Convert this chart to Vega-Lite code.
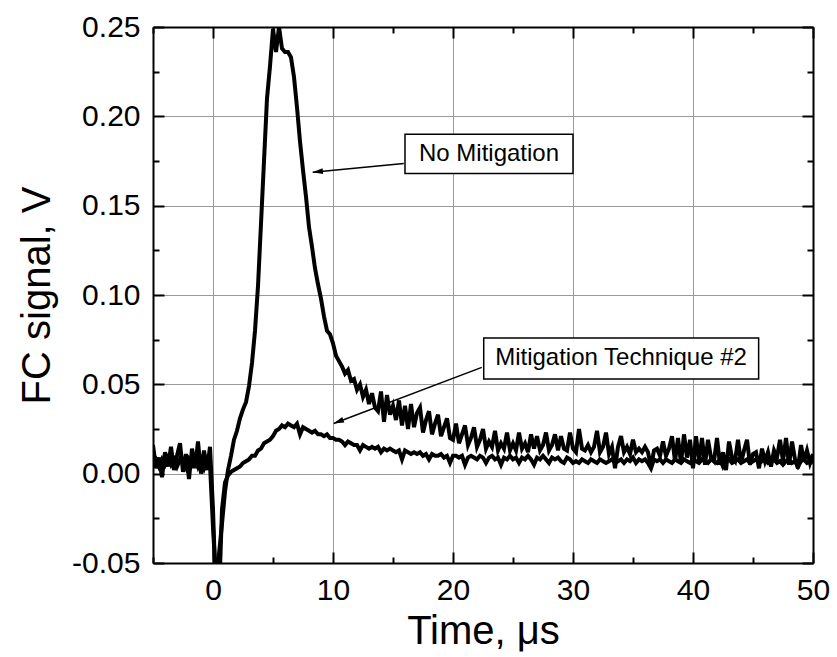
{
  "$schema": "https://vega.github.io/schema/vega-lite/v6.json",
  "width": 660,
  "height": 536,
  "autosize": {"type": "none"},
  "padding": {"left": 153, "top": 27, "right": 24, "bottom": 94},
  "background": "white",
  "config": {"view": {"stroke": null}, "font": "Liberation Sans"},
  "datasets": {
    "curves": [
      {"s":"A","t":-5,"v":0.016},{"s":"A","t":-4.75,"v":0.003},{"s":"A","t":-4.5,"v":0.009},{"s":"A","t":-4.25,"v":-0.002},{"s":"A","t":-4,"v":0.012},{"s":"A","t":-3.75,"v":0.004},{"s":"A","t":-3.5,"v":0.015},{"s":"A","t":-3.25,"v":0.002},{"s":"A","t":-3,"v":0.010},{"s":"A","t":-2.75,"v":0.017},{"s":"A","t":-2.5,"v":0.001},{"s":"A","t":-2.25,"v":0.011},{"s":"A","t":-2,"v":-0.003},{"s":"A","t":-1.75,"v":0.014},{"s":"A","t":-1.5,"v":0.003},{"s":"A","t":-1.25,"v":0.018},{"s":"A","t":-1,"v":0.000},{"s":"A","t":-0.75,"v":0.013},{"s":"A","t":-0.5,"v":0.002},{"s":"A","t":-0.25,"v":0.015},
      {"s":"A","t":0,"v":-0.02},{"s":"A","t":0.25,"v":-0.07},{"s":"A","t":0.5,"v":-0.045},{"s":"A","t":0.75,"v":-0.028},{"s":"A","t":1,"v":-0.01},{"s":"A","t":1.25,"v":0.002},{"s":"A","t":1.5,"v":0.010},{"s":"A","t":1.75,"v":0.019},{"s":"A","t":2,"v":0.024},{"s":"A","t":2.25,"v":0.031},{"s":"A","t":2.5,"v":0.036},{"s":"A","t":2.75,"v":0.040},{"s":"A","t":3,"v":0.049},{"s":"A","t":3.25,"v":0.062},{"s":"A","t":3.5,"v":0.080},{"s":"A","t":3.75,"v":0.105},{"s":"A","t":4,"v":0.140},{"s":"A","t":4.25,"v":0.175},{"s":"A","t":4.5,"v":0.210},{"s":"A","t":4.75,"v":0.228},
      {"s":"A","t":5,"v":0.249},{"s":"A","t":5.25,"v":0.236},{"s":"A","t":5.5,"v":0.250},{"s":"A","t":5.75,"v":0.238},{"s":"A","t":6,"v":0.236},{"s":"A","t":6.25,"v":0.236},{"s":"A","t":6.5,"v":0.233},{"s":"A","t":6.75,"v":0.222},{"s":"A","t":7,"v":0.205},{"s":"A","t":7.25,"v":0.186},{"s":"A","t":7.5,"v":0.170},{"s":"A","t":7.75,"v":0.155},{"s":"A","t":8,"v":0.138},{"s":"A","t":8.25,"v":0.127},{"s":"A","t":8.5,"v":0.115},{"s":"A","t":8.75,"v":0.106},{"s":"A","t":9,"v":0.098},{"s":"A","t":9.25,"v":0.088},{"s":"A","t":9.5,"v":0.080},{"s":"A","t":9.75,"v":0.078},
      {"s":"A","t":10,"v":0.073},{"s":"A","t":10.25,"v":0.066},{"s":"A","t":10.5,"v":0.063},{"s":"A","t":10.75,"v":0.060},{"s":"A","t":11,"v":0.056},{"s":"A","t":11.25,"v":0.058},{"s":"A","t":11.5,"v":0.052},{"s":"A","t":11.75,"v":0.053},{"s":"A","t":12,"v":0.047},{"s":"A","t":12.25,"v":0.050},{"s":"A","t":12.5,"v":0.043},{"s":"A","t":12.75,"v":0.047},{"s":"A","t":13,"v":0.039},{"s":"A","t":13.25,"v":0.045},{"s":"A","t":13.5,"v":0.037},{"s":"A","t":13.75,"v":0.035},{"s":"A","t":14,"v":0.046},{"s":"A","t":14.25,"v":0.029},{"s":"A","t":14.5,"v":0.044},{"s":"A","t":14.75,"v":0.033},
      {"s":"A","t":15,"v":0.038},{"s":"A","t":15.25,"v":0.030},{"s":"A","t":15.5,"v":0.041},{"s":"A","t":15.75,"v":0.027},{"s":"A","t":16,"v":0.038},{"s":"A","t":16.25,"v":0.025},{"s":"A","t":16.5,"v":0.039},{"s":"A","t":16.75,"v":0.026},{"s":"A","t":17,"v":0.034},{"s":"A","t":17.25,"v":0.037},{"s":"A","t":17.5,"v":0.023},{"s":"A","t":17.75,"v":0.030},{"s":"A","t":18,"v":0.035},{"s":"A","t":18.25,"v":0.022},{"s":"A","t":18.5,"v":0.028},{"s":"A","t":18.75,"v":0.033},{"s":"A","t":19,"v":0.021},{"s":"A","t":19.25,"v":0.026},{"s":"A","t":19.5,"v":0.031},{"s":"A","t":19.75,"v":0.020},
      {"s":"A","t":20,"v":0.019},{"s":"A","t":20.25,"v":0.028},{"s":"A","t":20.5,"v":0.017},{"s":"A","t":20.75,"v":0.022},{"s":"A","t":21,"v":0.027},{"s":"A","t":21.25,"v":0.016},{"s":"A","t":21.5,"v":0.020},{"s":"A","t":21.75,"v":0.026},{"s":"A","t":22,"v":0.015},{"s":"A","t":22.25,"v":0.019},{"s":"A","t":22.5,"v":0.025},{"s":"A","t":22.75,"v":0.014},{"s":"A","t":23,"v":0.018},{"s":"A","t":23.25,"v":0.015},{"s":"A","t":23.5,"v":0.024},{"s":"A","t":23.75,"v":0.013},{"s":"A","t":24,"v":0.017},{"s":"A","t":24.25,"v":0.014},{"s":"A","t":24.5,"v":0.023},{"s":"A","t":24.75,"v":0.013},
      {"s":"A","t":25,"v":0.017},{"s":"A","t":25.25,"v":0.013},{"s":"A","t":25.5,"v":0.023},{"s":"A","t":25.75,"v":0.014},{"s":"A","t":26,"v":0.017},{"s":"A","t":26.25,"v":0.012},{"s":"A","t":26.5,"v":0.022},{"s":"A","t":26.75,"v":0.014},{"s":"A","t":27,"v":0.021},{"s":"A","t":27.25,"v":0.013},{"s":"A","t":27.5,"v":0.016},{"s":"A","t":27.75,"v":0.023},{"s":"A","t":28,"v":0.013},{"s":"A","t":28.25,"v":0.016},{"s":"A","t":28.5,"v":0.022},{"s":"A","t":28.75,"v":0.013},{"s":"A","t":29,"v":0.021},{"s":"A","t":29.25,"v":0.014},{"s":"A","t":29.5,"v":0.013},{"s":"A","t":29.75,"v":0.023},
      {"s":"A","t":30,"v":0.014},{"s":"A","t":30.25,"v":0.012},{"s":"A","t":30.5,"v":0.025},{"s":"A","t":30.75,"v":0.014},{"s":"A","t":31,"v":0.013},{"s":"A","t":31.25,"v":0.016},{"s":"A","t":31.5,"v":0.012},{"s":"A","t":31.75,"v":0.015},{"s":"A","t":32,"v":0.024},{"s":"A","t":32.25,"v":0.012},{"s":"A","t":32.5,"v":0.015},{"s":"A","t":32.75,"v":0.023},{"s":"A","t":33,"v":0.011},{"s":"A","t":33.25,"v":0.015},{"s":"A","t":33.5,"v":0.003},{"s":"A","t":33.75,"v":0.015},{"s":"A","t":34,"v":0.021},{"s":"A","t":34.25,"v":0.012},{"s":"A","t":34.5,"v":0.015},{"s":"A","t":34.75,"v":0.011},
      {"s":"A","t":35,"v":0.019},{"s":"A","t":35.25,"v":0.012},{"s":"A","t":35.5,"v":0.014},{"s":"A","t":35.75,"v":0.012},{"s":"A","t":36,"v":0.015},{"s":"A","t":36.25,"v":0.012},{"s":"A","t":36.5,"v":0.004},{"s":"A","t":36.75,"v":0.013},{"s":"A","t":37,"v":0.014},{"s":"A","t":37.25,"v":0.010},{"s":"A","t":37.5,"v":0.018},{"s":"A","t":37.75,"v":0.010},{"s":"A","t":38,"v":0.014},{"s":"A","t":38.25,"v":0.021},{"s":"A","t":38.5,"v":0.007},{"s":"A","t":38.75,"v":0.020},{"s":"A","t":39,"v":0.006},{"s":"A","t":39.25,"v":0.022},{"s":"A","t":39.5,"v":0.009},{"s":"A","t":39.75,"v":0.019},
      {"s":"A","t":40,"v":0.003},{"s":"A","t":40.25,"v":0.021},{"s":"A","t":40.5,"v":0.007},{"s":"A","t":40.75,"v":0.020},{"s":"A","t":41,"v":0.005},{"s":"A","t":41.25,"v":0.019},{"s":"A","t":41.5,"v":0.009},{"s":"A","t":41.75,"v":0.007},{"s":"A","t":42,"v":0.020},{"s":"A","t":42.25,"v":0.005},{"s":"A","t":42.5,"v":0.012},{"s":"A","t":42.75,"v":0.002},{"s":"A","t":43,"v":0.018},{"s":"A","t":43.25,"v":0.009},{"s":"A","t":43.5,"v":0.007},{"s":"A","t":43.75,"v":0.019},{"s":"A","t":44,"v":0.006},{"s":"A","t":44.25,"v":0.013},{"s":"A","t":44.5,"v":0.019},{"s":"A","t":44.75,"v":0.005},
      {"s":"A","t":45,"v":0.011},{"s":"A","t":45.25,"v":0.012},{"s":"A","t":45.5,"v":0.003},{"s":"A","t":45.75,"v":0.014},{"s":"A","t":46,"v":0.007},{"s":"A","t":46.25,"v":0.012},{"s":"A","t":46.5,"v":0.004},{"s":"A","t":46.75,"v":0.013},{"s":"A","t":47,"v":0.009},{"s":"A","t":47.25,"v":0.019},{"s":"A","t":47.5,"v":0.007},{"s":"A","t":47.75,"v":0.020},{"s":"A","t":48,"v":0.005},{"s":"A","t":48.25,"v":0.018},{"s":"A","t":48.5,"v":0.008},{"s":"A","t":48.75,"v":0.003},{"s":"A","t":49,"v":0.016},{"s":"A","t":49.25,"v":0.007},{"s":"A","t":49.5,"v":0.013},{"s":"A","t":49.75,"v":0.006},{"s":"A","t":50,"v":0.011},

      {"s":"B","t":-5,"v":0.006},{"s":"B","t":-4.75,"v":0.008},{"s":"B","t":-4.5,"v":0.004},{"s":"B","t":-4.25,"v":0.008},{"s":"B","t":-4,"v":0.005},{"s":"B","t":-3.75,"v":0.009},{"s":"B","t":-3.5,"v":0.005},{"s":"B","t":-3.25,"v":0.008},{"s":"B","t":-3,"v":0.004},{"s":"B","t":-2.75,"v":0.008},{"s":"B","t":-2.5,"v":0.006},{"s":"B","t":-2.25,"v":0.003},{"s":"B","t":-2,"v":0.008},{"s":"B","t":-1.75,"v":0.005},{"s":"B","t":-1.5,"v":0.009},{"s":"B","t":-1.25,"v":0.004},{"s":"B","t":-1,"v":0.008},{"s":"B","t":-0.75,"v":0.003},{"s":"B","t":-0.5,"v":0.008},{"s":"B","t":-0.25,"v":0.005},
      {"s":"B","t":0,"v":-0.03},{"s":"B","t":0.25,"v":-0.06},{"s":"B","t":0.5,"v":-0.07},{"s":"B","t":0.75,"v":-0.02},{"s":"B","t":1,"v":-0.005},{"s":"B","t":1.25,"v":-0.001},{"s":"B","t":1.5,"v":0.001},{"s":"B","t":1.75,"v":0.002},{"s":"B","t":2,"v":0.003},{"s":"B","t":2.25,"v":0.004},{"s":"B","t":2.5,"v":0.006},{"s":"B","t":2.75,"v":0.007},{"s":"B","t":3,"v":0.008},{"s":"B","t":3.25,"v":0.010},{"s":"B","t":3.5,"v":0.010},{"s":"B","t":3.75,"v":0.013},{"s":"B","t":4,"v":0.014},{"s":"B","t":4.25,"v":0.017},{"s":"B","t":4.5,"v":0.018},{"s":"B","t":4.75,"v":0.019},
      {"s":"B","t":5,"v":0.021},{"s":"B","t":5.25,"v":0.024},{"s":"B","t":5.5,"v":0.025},{"s":"B","t":5.75,"v":0.027},{"s":"B","t":6,"v":0.026},{"s":"B","t":6.25,"v":0.028},{"s":"B","t":6.5,"v":0.027},{"s":"B","t":6.75,"v":0.026},{"s":"B","t":7,"v":0.028},{"s":"B","t":7.25,"v":0.022},{"s":"B","t":7.5,"v":0.026},{"s":"B","t":7.75,"v":0.025},{"s":"B","t":8,"v":0.024},{"s":"B","t":8.25,"v":0.023},{"s":"B","t":8.5,"v":0.024},{"s":"B","t":8.75,"v":0.022},{"s":"B","t":9,"v":0.022},{"s":"B","t":9.25,"v":0.021},{"s":"B","t":9.5,"v":0.022},{"s":"B","t":9.75,"v":0.020},
      {"s":"B","t":10,"v":0.020},{"s":"B","t":10.25,"v":0.019},{"s":"B","t":10.5,"v":0.019},{"s":"B","t":10.75,"v":0.018},{"s":"B","t":11,"v":0.016},{"s":"B","t":11.25,"v":0.018},{"s":"B","t":11.5,"v":0.017},{"s":"B","t":11.75,"v":0.016},{"s":"B","t":12,"v":0.016},{"s":"B","t":12.25,"v":0.013},{"s":"B","t":12.5,"v":0.016},{"s":"B","t":12.75,"v":0.015},{"s":"B","t":13,"v":0.014},{"s":"B","t":13.25,"v":0.015},{"s":"B","t":13.5,"v":0.014},{"s":"B","t":13.75,"v":0.015},{"s":"B","t":14,"v":0.012},{"s":"B","t":14.25,"v":0.014},{"s":"B","t":14.5,"v":0.013},{"s":"B","t":14.75,"v":0.014},
      {"s":"B","t":15,"v":0.013},{"s":"B","t":15.25,"v":0.012},{"s":"B","t":15.5,"v":0.013},{"s":"B","t":15.75,"v":0.008},{"s":"B","t":16,"v":0.013},{"s":"B","t":16.25,"v":0.012},{"s":"B","t":16.5,"v":0.011},{"s":"B","t":16.75,"v":0.012},{"s":"B","t":17,"v":0.011},{"s":"B","t":17.25,"v":0.012},{"s":"B","t":17.5,"v":0.010},{"s":"B","t":17.75,"v":0.011},{"s":"B","t":18,"v":0.008},{"s":"B","t":18.25,"v":0.011},{"s":"B","t":18.5,"v":0.010},{"s":"B","t":18.75,"v":0.010},{"s":"B","t":19,"v":0.011},{"s":"B","t":19.25,"v":0.009},{"s":"B","t":19.5,"v":0.010},{"s":"B","t":19.75,"v":0.006},
      {"s":"B","t":20,"v":0.010},{"s":"B","t":20.25,"v":0.010},{"s":"B","t":20.5,"v":0.009},{"s":"B","t":20.75,"v":0.010},{"s":"B","t":21,"v":0.005},{"s":"B","t":21.25,"v":0.009},{"s":"B","t":21.5,"v":0.010},{"s":"B","t":21.75,"v":0.009},{"s":"B","t":22,"v":0.008},{"s":"B","t":22.25,"v":0.010},{"s":"B","t":22.5,"v":0.009},{"s":"B","t":22.75,"v":0.006},{"s":"B","t":23,"v":0.009},{"s":"B","t":23.25,"v":0.010},{"s":"B","t":23.5,"v":0.008},{"s":"B","t":23.75,"v":0.009},{"s":"B","t":24,"v":0.005},{"s":"B","t":24.25,"v":0.009},{"s":"B","t":24.5,"v":0.008},{"s":"B","t":24.75,"v":0.010},
      {"s":"B","t":25,"v":0.008},{"s":"B","t":25.25,"v":0.009},{"s":"B","t":25.5,"v":0.006},{"s":"B","t":25.75,"v":0.009},{"s":"B","t":26,"v":0.008},{"s":"B","t":26.25,"v":0.010},{"s":"B","t":26.5,"v":0.008},{"s":"B","t":26.75,"v":0.005},{"s":"B","t":27,"v":0.009},{"s":"B","t":27.25,"v":0.008},{"s":"B","t":27.5,"v":0.010},{"s":"B","t":27.75,"v":0.008},{"s":"B","t":28,"v":0.006},{"s":"B","t":28.25,"v":0.009},{"s":"B","t":28.5,"v":0.008},{"s":"B","t":28.75,"v":0.009},{"s":"B","t":29,"v":0.007},{"s":"B","t":29.25,"v":0.006},{"s":"B","t":29.5,"v":0.009},{"s":"B","t":29.75,"v":0.008},
      {"s":"B","t":30,"v":0.006},{"s":"B","t":30.25,"v":0.007},{"s":"B","t":30.5,"v":0.006},{"s":"B","t":30.75,"v":0.008},{"s":"B","t":31,"v":0.007},{"s":"B","t":31.25,"v":0.006},{"s":"B","t":31.5,"v":0.008},{"s":"B","t":31.75,"v":0.007},{"s":"B","t":32,"v":0.006},{"s":"B","t":32.25,"v":0.008},{"s":"B","t":32.5,"v":0.007},{"s":"B","t":32.75,"v":0.006},{"s":"B","t":33,"v":0.007},{"s":"B","t":33.25,"v":0.008},{"s":"B","t":33.5,"v":0.006},{"s":"B","t":33.75,"v":0.007},{"s":"B","t":34,"v":0.008},{"s":"B","t":34.25,"v":0.006},{"s":"B","t":34.5,"v":0.008},{"s":"B","t":34.75,"v":0.007},
      {"s":"B","t":35,"v":0.009},{"s":"B","t":35.25,"v":0.006},{"s":"B","t":35.5,"v":0.008},{"s":"B","t":35.75,"v":0.007},{"s":"B","t":36,"v":0.008},{"s":"B","t":36.25,"v":0.006},{"s":"B","t":36.5,"v":0.003},{"s":"B","t":36.75,"v":0.008},{"s":"B","t":37,"v":0.007},{"s":"B","t":37.25,"v":0.008},{"s":"B","t":37.5,"v":0.006},{"s":"B","t":37.75,"v":0.008},{"s":"B","t":38,"v":0.007},{"s":"B","t":38.25,"v":0.006},{"s":"B","t":38.5,"v":0.008},{"s":"B","t":38.75,"v":0.007},{"s":"B","t":39,"v":0.006},{"s":"B","t":39.25,"v":0.008},{"s":"B","t":39.5,"v":0.007},{"s":"B","t":39.75,"v":0.006},
      {"s":"B","t":40,"v":0.008},{"s":"B","t":40.25,"v":0.007},{"s":"B","t":40.5,"v":0.006},{"s":"B","t":40.75,"v":0.008},{"s":"B","t":41,"v":0.007},{"s":"B","t":41.25,"v":0.006},{"s":"B","t":41.5,"v":0.008},{"s":"B","t":41.75,"v":0.007},{"s":"B","t":42,"v":0.006},{"s":"B","t":42.25,"v":0.008},{"s":"B","t":42.5,"v":0.004},{"s":"B","t":42.75,"v":0.007},{"s":"B","t":43,"v":0.008},{"s":"B","t":43.25,"v":0.006},{"s":"B","t":43.5,"v":0.007},{"s":"B","t":43.75,"v":0.008},{"s":"B","t":44,"v":0.006},{"s":"B","t":44.25,"v":0.007},{"s":"B","t":44.5,"v":0.008},{"s":"B","t":44.75,"v":0.006},
      {"s":"B","t":45,"v":0.007},{"s":"B","t":45.25,"v":0.008},{"s":"B","t":45.5,"v":0.006},{"s":"B","t":45.75,"v":0.007},{"s":"B","t":46,"v":0.008},{"s":"B","t":46.25,"v":0.006},{"s":"B","t":46.5,"v":0.007},{"s":"B","t":46.75,"v":0.008},{"s":"B","t":47,"v":0.006},{"s":"B","t":47.25,"v":0.007},{"s":"B","t":47.5,"v":0.005},{"s":"B","t":47.75,"v":0.007},{"s":"B","t":48,"v":0.008},{"s":"B","t":48.25,"v":0.006},{"s":"B","t":48.5,"v":0.007},{"s":"B","t":48.75,"v":0.004},{"s":"B","t":49,"v":0.007},{"s":"B","t":49.25,"v":0.008},{"s":"B","t":49.5,"v":0.006},{"s":"B","t":49.75,"v":0.007},{"s":"B","t":50,"v":0.006}
    ],
    "notes": [
      {"label":"No Mitigation","bx1":16.0,"bx2":30.0,"by1":0.168,"by2":0.190,"tx":23.0,"ty":0.179,"ax1":15.9,"ay1":0.1736,"ax2":8.31,"ay2":0.1687,"hx":8.72,"hy":0.1690},
      {"label":"Mitigation Technique #2","bx1":22.56,"bx2":45.47,"by1":0.053,"by2":0.0759,"tx":34.0,"ty":0.0645,"ax1":22.4,"ay1":0.0595,"ax2":10.06,"ay2":0.0281,"hx":10.45,"hy":0.0291}
    ]
  },
  "resolve": {"axis": {"x": "independent", "y": "independent"}},
  "layer": [
    {
      "data": {"name": "curves"},
      "mark": {"type": "line", "color": "black", "strokeWidth": 4, "clip": true},
      "encoding": {
        "x": {"field": "t", "type": "quantitative", "scale": {"domain": [-5, 50], "nice": false, "zero": false},
          "axis": {"orient": "bottom", "values": [0, 10, 20, 30, 40, 50], "ticks": false, "domain": false, "grid": true, "gridColor": "#9a9a9a", "gridWidth": 1,
            "labelFont": "Liberation Sans", "labelFontSize": 30, "labelColor": "black", "labelPadding": 12, "labelFlush": false,
            "title": "Time, μs", "titleFont": "Liberation Sans", "titleFontSize": 40, "titleFontWeight": "normal", "titleColor": "black", "titlePadding": 6}},
        "y": {"field": "v", "type": "quantitative", "scale": {"domain": [-0.05, 0.25], "nice": false, "zero": false},
          "axis": {"orient": "left", "values": [-0.05, 0, 0.05, 0.1, 0.15, 0.2, 0.25], "ticks": false, "domain": false, "grid": true, "gridColor": "#9a9a9a", "gridWidth": 1,
            "labelExpr": "datum.value < 0 ? '-' + format(-datum.value, '.2f') : format(datum.value, '.2f')",
            "labelFont": "Liberation Sans", "labelFontSize": 30, "labelColor": "black", "labelPadding": 13, "labelFlush": false,
            "title": "FC signal, V", "titleFont": "Liberation Sans", "titleFontSize": 40, "titleFontWeight": "normal", "titleColor": "black", "titlePadding": 14}},
        "detail": {"field": "s"}
      }
    },
    {
      "data": {"name": "notes"},
      "mark": {"type": "rect", "fill": "white", "stroke": "black", "strokeWidth": 1.5},
      "encoding": {
        "x": {"field": "bx1", "type": "quantitative",
          "axis": {"orient": "top", "values": [0, 10, 20, 30, 40, 50], "labels": false, "grid": false, "title": null,
            "domain": true, "domainColor": "black", "domainWidth": 2, "ticks": true, "tickColor": "black", "tickWidth": 2, "tickSize": -11}},
        "x2": {"field": "bx2"},
        "y": {"field": "by1", "type": "quantitative",
          "axis": {"orient": "right", "values": [-0.05, 0, 0.05, 0.1, 0.15, 0.2, 0.25], "labels": false, "grid": false, "title": null,
            "domain": true, "domainColor": "black", "domainWidth": 2, "ticks": true, "tickColor": "black", "tickWidth": 2, "tickSize": -11}},
        "y2": {"field": "by2"}
      }
    },
    {
      "data": {"name": "notes"},
      "mark": {"type": "text", "font": "Liberation Sans", "fontSize": 24, "color": "black", "align": "center", "baseline": "middle"},
      "encoding": {
        "x": {"field": "tx", "type": "quantitative",
          "axis": {"orient": "bottom", "values": [0, 10, 20, 30, 40, 50], "labels": false, "grid": false, "title": null,
            "domain": true, "domainColor": "black", "domainWidth": 2, "ticks": true, "tickColor": "black", "tickWidth": 2, "tickSize": -11}},
        "y": {"field": "ty", "type": "quantitative",
          "axis": {"orient": "left", "values": [-0.05, 0, 0.05, 0.1, 0.15, 0.2, 0.25], "labels": false, "grid": false, "title": null,
            "domain": true, "domainColor": "black", "domainWidth": 2, "ticks": true, "tickColor": "black", "tickWidth": 2, "tickSize": -11}},
        "text": {"field": "label"}
      }
    },
    {
      "data": {"name": "notes"},
      "mark": {"type": "rule", "color": "black", "strokeWidth": 1.5},
      "encoding": {
        "x": {"field": "ax1", "type": "quantitative",
          "axis": {"orient": "bottom", "values": [-5, 5, 15, 25, 35, 45], "labels": false, "grid": false, "title": null,
            "domain": false, "ticks": true, "tickColor": "black", "tickWidth": 2, "tickSize": -6}},
        "y": {"field": "ay1", "type": "quantitative",
          "axis": {"orient": "left", "values": [-0.025, 0.025, 0.075, 0.125, 0.175, 0.225], "labels": false, "grid": false, "title": null,
            "domain": false, "ticks": true, "tickColor": "black", "tickWidth": 2, "tickSize": -6}},
        "x2": {"field": "ax2"},
        "y2": {"field": "ay2"}
      }
    },
    {
      "data": {"name": "notes"},
      "transform": [{"filter": "datum.label === 'No Mitigation'"}],
      "mark": {"type": "point", "shape": "M0,-1L0.55,1L-0.55,1Z", "filled": true, "color": "black", "opacity": 1, "size": 110, "angle": 264.5},
      "encoding": {
        "x": {"field": "hx", "type": "quantitative",
          "axis": {"orient": "top", "values": [-5, 5, 15, 25, 35, 45], "labels": false, "grid": false, "title": null,
            "domain": false, "ticks": true, "tickColor": "black", "tickWidth": 2, "tickSize": -6}},
        "y": {"field": "hy", "type": "quantitative",
          "axis": {"orient": "right", "values": [-0.025, 0.025, 0.075, 0.125, 0.175, 0.225], "labels": false, "grid": false, "title": null,
            "domain": false, "ticks": true, "tickColor": "black", "tickWidth": 2, "tickSize": -6}}
      }
    },
    {
      "data": {"name": "notes"},
      "transform": [{"filter": "datum.label !== 'No Mitigation'"}],
      "mark": {"type": "point", "shape": "M0,-1L0.55,1L-0.55,1Z", "filled": true, "color": "black", "opacity": 1, "size": 110, "angle": 249.2},
      "encoding": {
        "x": {"field": "hx", "type": "quantitative", "axis": null},
        "y": {"field": "hy", "type": "quantitative", "axis": null}
      }
    }
  ]
}
